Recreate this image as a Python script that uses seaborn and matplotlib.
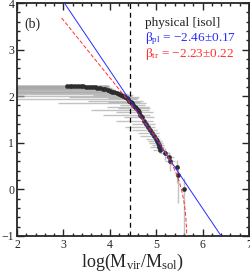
import numpy as np
import seaborn as sns
import matplotlib
matplotlib.use("Agg")
import matplotlib.pyplot as plt
from matplotlib.ticker import MultipleLocator

# cumulative mass function data (log M, log N(>M))
log_mass = [3.08, 3.14, 3.19, 3.25, 3.31, 3.37, 3.43, 3.49, 3.55, 3.61,
            3.67, 3.73, 3.79, 3.85, 3.90, 3.95, 4.00, 4.05, 4.10, 4.15,
            4.20, 4.24, 4.28, 4.32, 4.36, 4.39, 4.42, 4.45, 4.48, 4.51, 4.54,
            4.57, 4.60, 4.63, 4.66, 4.70, 4.74, 4.78, 4.82, 4.87, 4.91, 4.95, 4.99,
            5.02, 5.04, 5.06, 5.07, 5.08, 5.18, 5.28, 5.30, 5.45, 5.46, 5.59]
log_n = [2.225, 2.222, 2.220, 2.218, 2.215, 2.212, 2.209, 2.206, 2.202, 2.197,
         2.190, 2.182, 2.172, 2.160, 2.146, 2.130, 2.114, 2.097, 2.079, 2.060,
         2.041, 2.021, 2.000, 1.978, 1.954, 1.929, 1.903, 1.875, 1.845, 1.813, 1.778,
         1.740, 1.699, 1.653, 1.602, 1.544, 1.477, 1.398, 1.342, 1.279, 1.204, 1.146, 1.079,
         1.041, 1.000, 0.954, 0.903, 0.845, 0.778, 0.699, 0.602, 0.477, 0.301, 0.000]

# mass errors (lower / upper, dex)
mass_err_lo = [1.3, 1.2, 1.4, 1.3, 1.5, 1.4, 1.6, 1.5, 1.7, 1.6,
               1.7, 1.8, 1.9, 1.9, 2.0, 2.0, 2.1, 2.1, 2.2, 2.2,
               2.3, 0.6, 2.3, 1.2, 0.4, 2.4, 0.9, 0.5, 1.6, 0.3, 0.6,
               0.4, 1.0, 0.5, 0.8, 0.4, 0.6, 0.3, 0.5, 0.4, 0.3, 0.3, 0.2,
               0.2, 0.2, 0.15, 0.2, 0.15, 0.1, 0.1, 0.1, 0.05, 0.05, 0.0]
mass_err_hi = [0.9, 0.85, 0.8, 0.7, 0.65, 0.6, 0.5, 0.45, 0.4, 0.35,
               0.3, 0.3, 0.25, 0.2, 0.2, 0.15, 0.15, 0.15, 0.15, 0.15,
               0.2, 0.25, 0.2, 0.3, 0.25, 0.2, 0.3, 0.2, 0.3, 0.25, 0.3,
               0.3, 0.25, 0.3, 0.2, 0.25, 0.2, 0.2, 0.15, 0.15, 0.15, 0.1, 0.1,
               0.1, 0.1, 0.1, 0.1, 0.1, 0.1, 0.1, 0.1, 0.05, 0.05, 0.0]
# count errors only matter at the low-N end
n_err_lo = [0.0] * 43 + [0.05, 0.05, 0.06, 0.06, 0.07, 0.15, 0.15, 0.2, 0.35, 0.6, 1.5]
n_err_hi = [0.0] * 43 + [0.05, 0.05, 0.05, 0.06, 0.06, 0.1, 0.1, 0.12, 0.15, 0.2, 0.25]

# fits
beta_pl, beta_pl_err = -2.46, 0.17
pl_slope, pl_icept = -1.48, 8.47
beta_tr, beta_tr_err = -2.23, 0.22
tr_logk, tr_logmc, tr_start = 7.32, 5.676, 2.96
completeness = 4.44

sns.set_style("ticks")
plt.rcParams["font.family"] = ["Liberation Serif", "DejaVu Serif"]
plt.rcParams["mathtext.fontset"] = "custom"
plt.rcParams["mathtext.rm"] = "Liberation Serif"
plt.rcParams["mathtext.it"] = "Liberation Serif:italic"

fig = plt.figure(figsize=(2.51, 2.74), dpi=100)
ax = fig.add_axes([0.068, 0.139, 0.924, 0.850])

ax.errorbar(log_mass, log_n, xerr=[mass_err_lo, mass_err_hi], yerr=[n_err_lo, n_err_hi],
            fmt="none", ecolor="#a8a8a8", elinewidth=1.0, alpha=0.7, zorder=1)
sns.scatterplot(x=log_mass, y=log_n, color="#303030", s=9, edgecolor="#202020",
                linewidth=0.3, ax=ax, zorder=3)

xs = np.linspace(2.8, 6.6, 50)
sns.lineplot(x=xs, y=pl_slope * xs + pl_icept, color="#2a2aff", lw=0.7, ax=ax, zorder=4)

xt = np.linspace(tr_start, tr_logmc - 1e-4, 400)
g = beta_tr + 1
yt = tr_logk + np.log10(10 ** (g * xt) - 10 ** (g * tr_logmc))
ax.plot(xt, yt, color="#ff3030", lw=0.7, ls=(0, (4, 2)), zorder=4)

ax.axvline(completeness, color="black", lw=0.9, ls=(0, (4, 3)), zorder=2)

ax.set_xlim(2, 7)
ax.set_ylim(-1, 4)
ax.xaxis.set_major_locator(MultipleLocator(1))
ax.xaxis.set_minor_locator(MultipleLocator(0.2))
ax.yaxis.set_major_locator(MultipleLocator(1))
ax.yaxis.set_minor_locator(MultipleLocator(0.2))
ax.tick_params(which="both", direction="in", top=True, right=True, labelsize=8.5,
               width=1.0, pad=2)
ax.tick_params(which="major", length=5)
ax.tick_params(which="minor", length=2.5)
for s in ax.spines.values():
    s.set_linewidth(1.3)

ax.set_xlabel(r"log(M$_{\rm vir}$/M$_{\rm sol}$)", fontsize=13, labelpad=1)
ax.set_ylabel("")

ax.text(0.03, 0.91, "(b)", transform=ax.transAxes, fontsize=10, va="center")
ax.text(0.552, 0.914, "physical [isol]", transform=ax.transAxes, fontsize=9.5,
        va="center", color="#202020")
ax.text(0.552, 0.845, "β$_{\\rm pl}$ = −%.2f±%.2f" % (-beta_pl, beta_pl_err),
        transform=ax.transAxes, fontsize=9.5, va="center", color="#2a2aff")
ax.text(0.552, 0.78, "β$_{\\rm tr}$ = −%.2f±%.2f" % (-beta_tr, beta_tr_err),
        transform=ax.transAxes, fontsize=9.5, va="center", color="#ff3030")

fig.savefig("out.png", dpi=100)
